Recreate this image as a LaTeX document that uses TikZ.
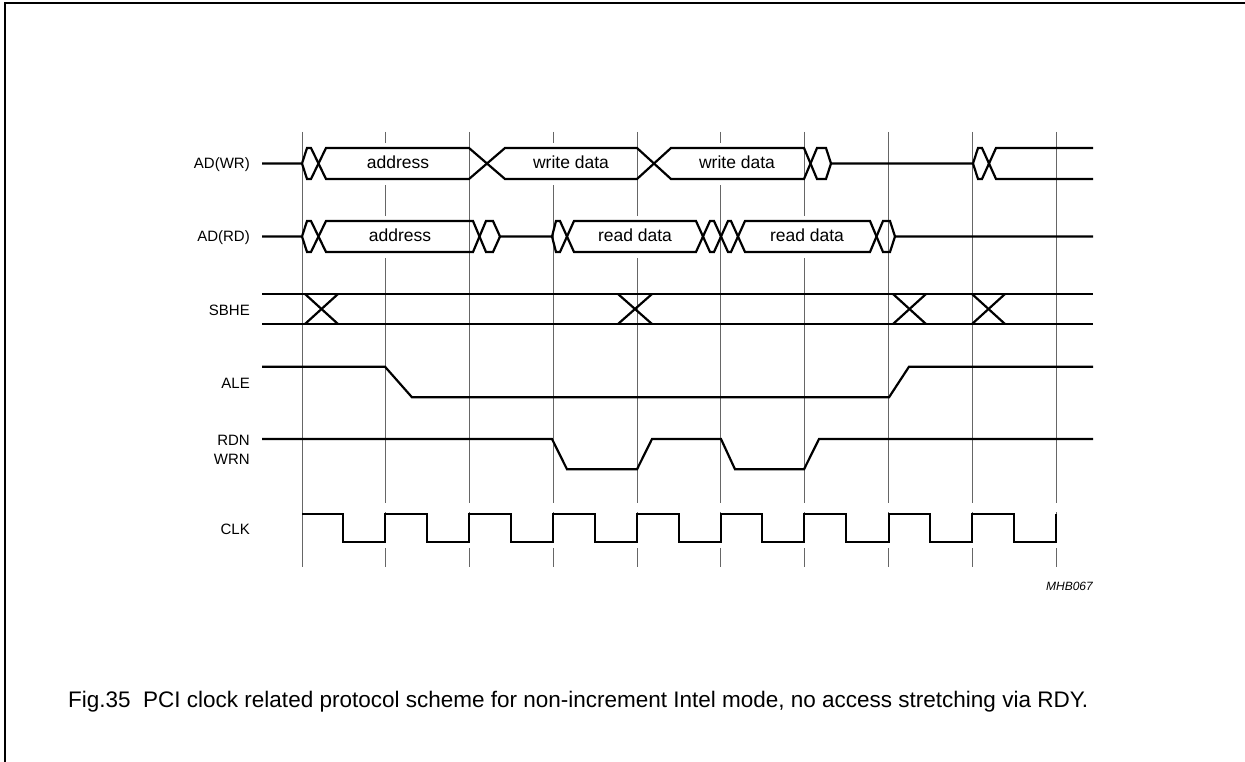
\documentclass[tikz,border=0pt]{standalone}
\usepackage{fontspec}
\setmainfont{Liberation Sans}
\begin{document}
\begin{tikzpicture}[x=1pt,y=-1pt,
  sig/.style={line width=2.2pt, line join=miter, line cap=butt},
  gridln/.style={line width=0.9pt, black!60},
  gap/.style={fill=white, draw=none},
  lbl/.style={font=\fontsize{15}{18}\selectfont, anchor=base east, inner sep=0pt},
  txt/.style={font=\fontsize{17.5}{20}\selectfont, anchor=base, inner sep=0pt}]
\useasboundingbox (0,0) rectangle (1245,762);
\fill[white] (0,0) rectangle (1245,762);
% frame
\draw[line width=1.6pt] (5,762) -- (5,3) -- (1245,3);

% grid lines
\foreach \x in {302.3,385,469,553.3,637.3,720.7,804.3,888.7,972.3,1056}
  \draw[gridln] (\x,132) -- (\x,567);

% gaps behind labelled data boxes
\fill[gap] (332,143) rectangle (464,185);
\fill[gap] (510,143) rectangle (632,185);
\fill[gap] (676,143) rectangle (799,185);
\fill[gap] (332,216) rectangle (468,258);
\fill[gap] (579,216) rectangle (691,258);
\fill[gap] (750,216) rectangle (865,258);
% gaps round the clock edges
\foreach \x in {385,469,553.3,637.3,720.7,804.3,888.7,972.3,1056}{
  \fill[gap] (\x-2,503) rectangle (\x+2,511.5);
  \fill[gap] (\x-2,543) rectangle (\x+2,548);
}

% AD(WR)
\draw[sig] (262,163.5) -- (302,163.5) -- (307,148) -- (311,148) -- (326,179) -- (469,179)
  -- (505,148) -- (637,148) -- (671,179) -- (804,179) -- (817,148) -- (826,148) -- (831,163.5)
  -- (973,163.5) -- (978,148) -- (982,148) -- (996,179) -- (1093,179);
\draw[sig] (302,163.5) -- (307,179) -- (311,179) -- (326,148) -- (469,148) -- (505,179)
  -- (637,179) -- (671,148) -- (804,148) -- (817,179) -- (826,179) -- (831,163.5);
\draw[sig] (973,163.5) -- (978,179) -- (982,179) -- (996,148) -- (1093,148);
\node[txt] (wa) at (398,169) {address};
\node[txt] (wd1) at (571,169) {write data};
\node[txt] (wd2) at (737,169) {write data};

% AD(RD)
\draw[sig] (262,236.5) -- (302,236.5) -- (307,221) -- (311,221) -- (326,252) -- (473,252)
  -- (486,221) -- (493,221) -- (500,236.5) -- (552,236.5) -- (556,221) -- (560,221) -- (574,252)
  -- (696,252) -- (710,221) -- (714,221) -- (728,252) -- (731,252) -- (745,221) -- (870,221)
  -- (883,252) -- (890,252) -- (895,236.5) -- (1093,236.5);
\draw[sig] (302,236.5) -- (307,252) -- (311,252) -- (326,221) -- (473,221) -- (486,252)
  -- (493,252) -- (500,236.5);
\draw[sig] (552,236.5) -- (556,252) -- (560,252) -- (574,221) -- (696,221) -- (710,252)
  -- (714,252) -- (728,221) -- (731,221) -- (745,252) -- (870,252) -- (883,221) -- (890,221)
  -- (895,236.5);
\node[txt] (ra) at (400,242) {address};
\node[txt] (rd1) at (635,242) {read data};
\node[txt] (rd2) at (807,242) {read data};

% SBHE
\draw[sig] (262,294) -- (1093,294);
\draw[sig] (262,324) -- (1093,324);
\foreach \a/\b in {305/338,618/652,893/926,972/1005}{
  \draw[sig] (\a,294) -- (\b,324);
  \draw[sig] (\a,324) -- (\b,294);
}

% ALE
\draw[sig] (262,366.7) -- (385,366.7) -- (412,397.3) -- (889,397.3) -- (909,366.7) -- (1093,366.7);

% RDN / WRN
\draw[sig] (262,439) -- (552,439) -- (567,469.3) -- (637,469.3) -- (652,439) -- (721,439)
  -- (735,469.3) -- (804,469.3) -- (819,439) -- (1093,439);

% CLK
\draw[sig] (302.3,513.7) -- (343,513.7) -- (343,541.7) -- (385,541.7) -- (385,513.7)
  -- (427,513.7) -- (427,541.7) -- (469,541.7) -- (469,513.7)
  -- (511,513.7) -- (511,541.7) -- (553.3,541.7) -- (553.3,513.7)
  -- (595,513.7) -- (595,541.7) -- (637.3,541.7) -- (637.3,513.7)
  -- (679,513.7) -- (679,541.7) -- (720.7,541.7) -- (720.7,513.7)
  -- (762,513.7) -- (762,541.7) -- (804.3,541.7) -- (804.3,513.7)
  -- (846,513.7) -- (846,541.7) -- (888.7,541.7) -- (888.7,513.7)
  -- (930,513.7) -- (930,541.7) -- (972.3,541.7) -- (972.3,513.7)
  -- (1014,513.7) -- (1014,541.7) -- (1056,541.7) -- (1056,513.7);

% labels
\node[lbl] (l1) at (250,169) {AD(WR)};
\node[lbl] (l2) at (250,242) {AD(RD)};
\node[lbl] (l3) at (250,315) {SBHE};
\node[lbl] (l4) at (250,388) {ALE};
\node[lbl] (l5) at (250,445) {RDN};
\node[lbl] (l6) at (250,464) {WRN};
\node[lbl] (l7) at (250,534) {CLK};

\node[font=\fontsize{12}{14}\selectfont\itshape, anchor=base east, inner sep=0pt] (id) at (1093,590) {MHB067};

\node[font=\fontsize{22.5}{26}\selectfont, anchor=base west, inner sep=0pt] (cap) at (68,707)
  {Fig.35\ \ PCI clock related protocol scheme for non-increment Intel mode, no access stretching via RDY.};
\end{tikzpicture}
\end{document}
